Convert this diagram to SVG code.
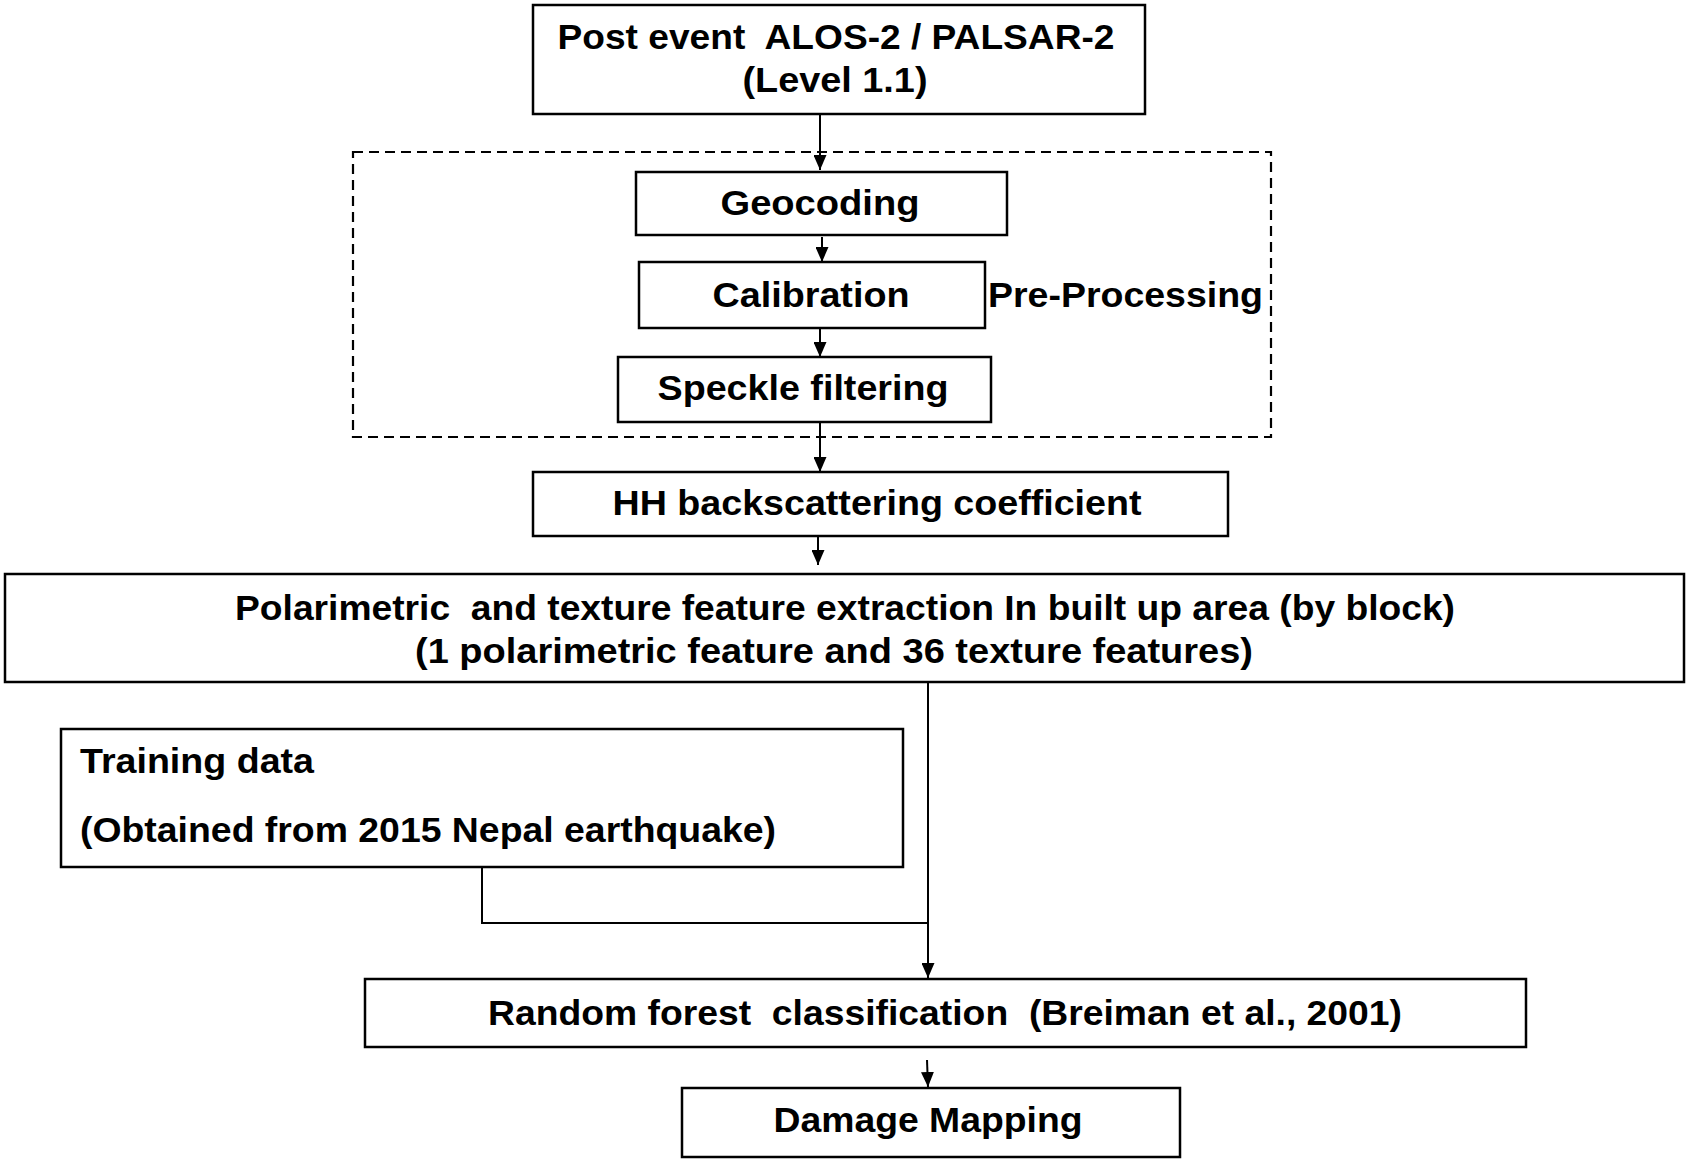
<svg xmlns="http://www.w3.org/2000/svg" width="1691" height="1160" viewBox="0 0 1691 1160">
<style>
.box{fill:#fff;stroke:#000;stroke-width:2.5}
.t{font-family:"Liberation Sans",Arial,sans-serif;font-weight:bold;font-size:35px;fill:#000;white-space:pre}
.c{text-anchor:middle}
.ln{fill:none;stroke:#000;stroke-width:2}
</style>
<defs>
<marker id="ah" markerWidth="15" markerHeight="13" refX="15" refY="6.5" orient="auto" markerUnits="userSpaceOnUse" viewBox="0 0 15 13">
<path d="M0,0 L15,6.5 L0,13 z" fill="#000"/>
</marker>
</defs>
<rect width="1691" height="1160" fill="#fff"/>
<g id="preprocessing-group">
<rect x="353" y="152" width="918" height="285" fill="none" stroke="#000" stroke-width="2.2" stroke-dasharray="10,6"/>
<text class="t" x="988" y="307" font-size="36" textLength="275" lengthAdjust="spacingAndGlyphs">Pre-Processing</text>
</g>
<g id="connectors">
<line class="ln" x1="820" y1="114" x2="820" y2="170" marker-end="url(#ah)"/>
<line class="ln" x1="822" y1="237" x2="822" y2="262" marker-end="url(#ah)"/>
<line class="ln" x1="820" y1="329" x2="820" y2="357" marker-end="url(#ah)"/>
<line class="ln" x1="820" y1="423" x2="820" y2="472" marker-end="url(#ah)"/>
<line class="ln" x1="818" y1="525" x2="818" y2="565" marker-end="url(#ah)"/>
<line class="ln" x1="928" y1="683" x2="928" y2="978" marker-end="url(#ah)"/>
<polyline class="ln" points="482,867 482,923 928,923"/>
<line class="ln" x1="927" y1="1060" x2="928" y2="1087" marker-end="url(#ah)"/>
</g>
<g id="node-post-event">
<rect class="box" x="533" y="5" width="612" height="109"/>
<text class="t c" x="836" y="49" font-size="34" textLength="557" lengthAdjust="spacingAndGlyphs" xml:space="preserve">Post event  ALOS-2 / PALSAR-2</text>
<text class="t c" x="835" y="92" font-size="34" textLength="185" lengthAdjust="spacingAndGlyphs">(Level 1.1)</text>
</g>
<g id="node-geocoding">
<rect class="box" x="636" y="172" width="371" height="63"/>
<text class="t c" x="820" y="215" textLength="199" lengthAdjust="spacingAndGlyphs">Geocoding</text>
</g>
<g id="node-calibration">
<rect class="box" x="639" y="262" width="346" height="66"/>
<text class="t c" x="811" y="307" font-size="36" textLength="197" lengthAdjust="spacingAndGlyphs">Calibration</text>
</g>
<g id="node-speckle">
<rect class="box" x="618" y="357" width="373" height="65"/>
<text class="t c" x="803" y="400" font-size="36" textLength="291" lengthAdjust="spacingAndGlyphs">Speckle filtering</text>
</g>
<g id="node-hh">
<rect class="box" x="533" y="472" width="695" height="64"/>
<text class="t c" x="877" y="515" font-size="33" textLength="529" lengthAdjust="spacingAndGlyphs">HH backscattering coefficient</text>
</g>
<g id="node-features">
<rect class="box" x="5" y="574" width="1679" height="108"/>
<text class="t c" x="845" y="620" textLength="1220" lengthAdjust="spacingAndGlyphs" xml:space="preserve">Polarimetric  and texture feature extraction In built up area (by block)</text>
<text class="t c" x="834" y="663" textLength="838" lengthAdjust="spacingAndGlyphs">(1 polarimetric feature and 36 texture features)</text>
</g>
<g id="node-training">
<rect class="box" x="61" y="729" width="842" height="138"/>
<text class="t" x="80" y="773" font-size="38" textLength="234" lengthAdjust="spacingAndGlyphs">Training data</text>
<text class="t" x="80" y="842" font-size="38" textLength="696" lengthAdjust="spacingAndGlyphs">(Obtained from 2015 Nepal earthquake)</text>
</g>
<g id="node-rf">
<rect class="box" x="365" y="979" width="1161" height="68"/>
<text class="t c" x="945" y="1025" font-size="33" textLength="914" lengthAdjust="spacingAndGlyphs" xml:space="preserve">Random forest  classification  (Breiman et al., 2001)</text>
</g>
<g id="node-damage">
<rect class="box" x="682" y="1088" width="498" height="69"/>
<text class="t c" x="928" y="1132" font-size="32" textLength="309" lengthAdjust="spacingAndGlyphs">Damage Mapping</text>
</g>
</svg>
